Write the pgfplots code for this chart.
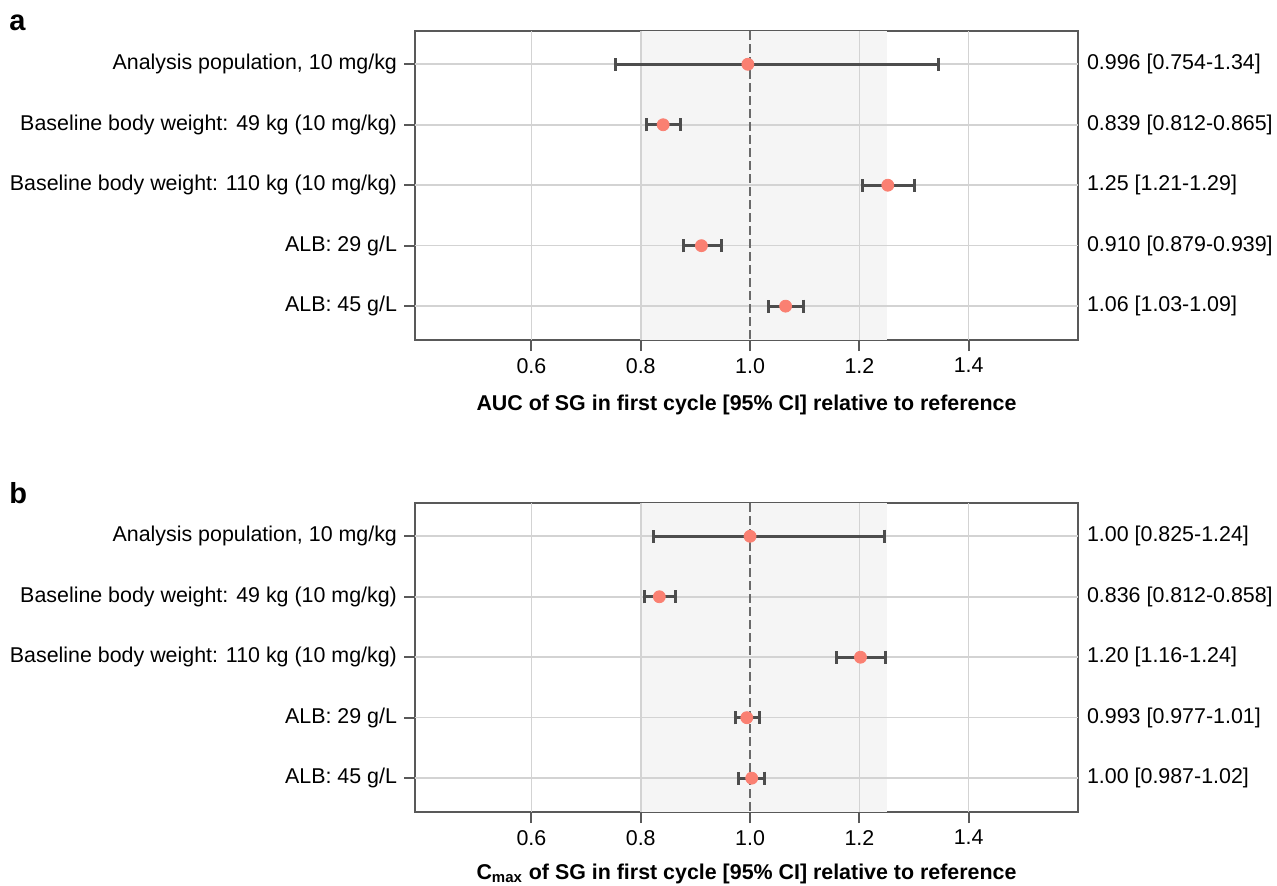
\documentclass[border=0pt]{standalone}
\usepackage{fontspec}
\setmainfont{Liberation Sans}
\usepackage{pgfplots}
\usepackage{pgfplotstable}
\pgfplotsset{compat=1.18}
\definecolor{framegray}{HTML}{595959}
\definecolor{gridgray}{HTML}{D3D3D3}
\definecolor{shade}{HTML}{F5F5F5}
\definecolor{errgray}{HTML}{4D4D4D}
\definecolor{salmon}{HTML}{FA8072}
\newcommand{\fs}{\fontsize{10.7pt}{12.8pt}\selectfont}
\tikzset{rlab/.style={anchor=west, font=\fs, xshift=1pt},
  gl/.style={gridgray, line width=0.8pt}}

% y = row, x = ratio, lo/hi = 95% CI
\pgfplotstableread{
y x lo hi
1 0.996 0.754 1.345
2 0.841 0.810 0.872
3 1.252 1.205 1.300
4 0.911 0.878 0.947
5 1.065 1.034 1.098
}\auc
\pgfplotstableread{
y x lo hi
1 1.000 0.823 1.246
2 0.834 0.806 0.864
3 1.202 1.159 1.248
4 0.994 0.973 1.018
5 1.003 0.978 1.026
}\cmax

\pgfplotsset{forest/.style={
  clip=false,
  scale only axis, width=331.5pt, height=154.5pt,
  xmin=0.387, xmax=1.6, ymin=0.45, ymax=5.56, y dir=reverse,
  xtick={0.6,0.8,1.0,1.2,1.4}, ytick={1,2,3,4,5},
  yticklabels={{Analysis population, 10 mg/kg},
    {Baseline body weight: 49 kg (10 mg/kg)},
    {Baseline body weight: 110 kg (10 mg/kg)},
    {ALB: 29 g/L},{ALB: 45 g/L}},
  axis line style={framegray, line width=1pt},
  tick style={framegray, line width=1pt},
  tick align=outside, major tick length=5.5pt,
  xtick pos=bottom, ytick pos=left,
  tick label style={font=\fs},
  xticklabel style={/pgf/number format/.cd, fixed, fixed zerofill,
    precision=1, assume math mode=true},
  xlabel style={font=\fs\bfseries, yshift=-4pt},
}}
\newcommand{\backdrop}{%
  \addplot[fill=shade, draw=none, forget plot] coordinates
    {(0.8,0.45) (1.25,0.45) (1.25,5.56) (0.8,5.56)} -- cycle;
  \draw[gl] (axis cs:0.6,0.45) -- (axis cs:0.6,5.56);
  \draw[gl] (axis cs:0.8,0.45) -- (axis cs:0.8,5.56);
  \draw[gl] (axis cs:1.2,0.45) -- (axis cs:1.2,5.56);
  \draw[gl] (axis cs:1.4,0.45) -- (axis cs:1.4,5.56);
  \draw[gl] (axis cs:0.387,1) -- (axis cs:1.6,1);
  \draw[gl] (axis cs:0.387,2) -- (axis cs:1.6,2);
  \draw[gl] (axis cs:0.387,3) -- (axis cs:1.6,3);
  \draw[gl] (axis cs:0.387,4) -- (axis cs:1.6,4);
  \draw[gl] (axis cs:0.387,5) -- (axis cs:1.6,5);
  \draw[framegray!90, line width=0.6pt, dash pattern=on 4.5pt off 2pt]
    (axis cs:1,0.45) -- (axis cs:1,5.56);}

\begin{document}
\begin{tikzpicture}
\path[use as bounding box] (0,0) rectangle (638.5pt,-442.5pt);
\node[anchor=base west, font=\fontsize{14.5pt}{16pt}\selectfont\bfseries, inner sep=0pt] at (4.5pt,-15pt) {a};
\node[anchor=base west, font=\fontsize{14.5pt}{16pt}\selectfont\bfseries, inner sep=0pt] at (4.5pt,-251.5pt) {b};

\begin{axis}[forest, at={(207.5pt,-15.5pt)}, anchor=north west,
  xlabel={AUC of SG in first cycle [95\% CI] relative to reference}]
\backdrop
\addplot[draw=none, mark=none, forget plot, error bars/.cd, x dir=both, x explicit,
  error mark=|,
  error bar style={line width=1.5pt, draw=errgray},
  error mark options={draw=errgray, line width=1.5pt, mark size=3.3pt}]
  table[x=x, y=y, x error plus expr=\thisrow{hi}-\thisrow{x},
    x error minus expr=\thisrow{x}-\thisrow{lo}] {\auc};
\addplot[only marks, mark=*, mark size=3pt, color=salmon, mark options={draw=salmon, fill=salmon}]
  table[x=x, y=y] {\auc};
\node[rlab] at (axis cs:1.6,1) {0.996 [0.754-1.34]};
\node[rlab] at (axis cs:1.6,2) {0.839 [0.812-0.865]};
\node[rlab] at (axis cs:1.6,3) {1.25 [1.21-1.29]};
\node[rlab] at (axis cs:1.6,4) {0.910 [0.879-0.939]};
\node[rlab] at (axis cs:1.6,5) {1.06 [1.03-1.09]};
\end{axis}

\begin{axis}[forest, at={(207.5pt,-251.5pt)}, anchor=north west,
  xlabel style={yshift=1.5pt},
  xlabel={C\textsubscript{max} of SG in first cycle [95\% CI] relative to reference}]
\backdrop
\addplot[draw=none, mark=none, forget plot, error bars/.cd, x dir=both, x explicit,
  error mark=|,
  error bar style={line width=1.5pt, draw=errgray},
  error mark options={draw=errgray, line width=1.5pt, mark size=3.3pt}]
  table[x=x, y=y, x error plus expr=\thisrow{hi}-\thisrow{x},
    x error minus expr=\thisrow{x}-\thisrow{lo}] {\cmax};
\addplot[only marks, mark=*, mark size=3pt, color=salmon, mark options={draw=salmon, fill=salmon}]
  table[x=x, y=y] {\cmax};
\node[rlab] at (axis cs:1.6,1) {1.00 [0.825-1.24]};
\node[rlab] at (axis cs:1.6,2) {0.836 [0.812-0.858]};
\node[rlab] at (axis cs:1.6,3) {1.20 [1.16-1.24]};
\node[rlab] at (axis cs:1.6,4) {0.993 [0.977-1.01]};
\node[rlab] at (axis cs:1.6,5) {1.00 [0.987-1.02]};
\end{axis}
\end{tikzpicture}
\end{document}
